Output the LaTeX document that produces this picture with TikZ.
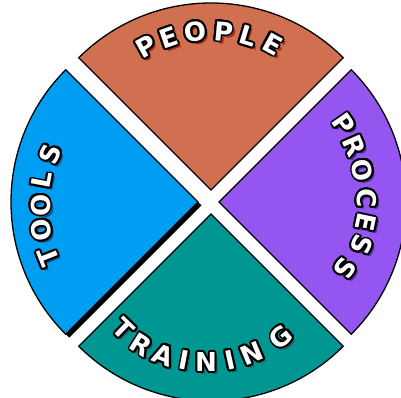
\documentclass[tikz,border=0pt]{standalone}
\usepackage{fontspec}
\setmainfont{DejaVu Sans}
\usetikzlibrary{calc}
\definecolor{peoplefill}{RGB}{209,112,80}
\definecolor{peopleshadow}{RGB}{160,45,20}
\definecolor{processfill}{RGB}{148,85,240}
\definecolor{processshadow}{RGB}{85,45,165}
\definecolor{toolsfill}{RGB}{0,158,242}
\definecolor{toolsshadow}{RGB}{20,85,135}
\definecolor{trainingfill}{RGB}{0,150,146}
\definecolor{trainingshadow}{RGB}{35,95,100}
\tikzset{
  sector/.style={draw=black, line width=1.3pt, line join=miter},
  lt/.style={font=\bfseries, scale=1.45, inner sep=0pt, anchor=center}
}
\newcommand\letterat[6]{%
  \node[lt, text=#6, rotate=#4] (#1s) at (#2+3,#3-3) {\fontsize{18}{18}\selectfont #5};
  \foreach \ang in {0,22.5,...,337.5}{\node[lt, text=black, rotate=#4] at ([shift={(\ang:1.9)}]#2,#3) {\fontsize{18}{18}\selectfont #5};}
  \node[lt, text=white, rotate=#4] (#1) at (#2,#3) {\fontsize{18}{18}\selectfont #5};
}
\begin{document}
\begin{tikzpicture}[x=1pt,y=1pt]
\clip (0,0) rectangle (401,398);
\fill[white] (0,0) rectangle (401,398);
\coordinate (tipPeople) at (211,208);
\coordinate (tipProcess) at (219,196);
\coordinate (tipTools) at (198,196);
\coordinate (tipTraining) at (211,184);
% sectors
\draw[sector, fill=peoplefill] (tipPeople) -- ++(45:187) arc[start angle=45, end angle=135, radius=187pt] -- cycle;
\draw[sector, fill=processfill] (tipProcess) -- ++(-45:187) arc[start angle=-45, end angle=45, radius=187pt] -- cycle;
\fill[black] ([shift={(3.5,-3.5)}]tipTools) -- ++(135:187) arc[start angle=135, end angle=225, radius=187pt] -- cycle;
\draw[sector, fill=toolsfill] (tipTools) -- ++(135:187) arc[start angle=135, end angle=225, radius=187pt] -- cycle;
\draw[sector, fill=trainingfill] (tipTraining) -- ++(225:187) arc[start angle=225, end angle=315, radius=187pt] -- cycle;
% PEOPLE
\letterat{pe1}{146.5}{351.5}{29}{P}{peopleshadow}
\letterat{pe2}{168.5}{360.5}{19}{E}{peopleshadow}
\letterat{pe3}{195.5}{366.5}{7}{O}{peopleshadow}
\letterat{pe4}{223.5}{366.5}{-5.5}{P}{peopleshadow}
\letterat{pe5}{248}{362.3}{-17}{L}{peopleshadow}
\letterat{pe6}{272.5}{354}{-28.7}{E}{peopleshadow}
% PROCESS
\letterat{pr1}{344.2}{273.8}{-55}{P}{processshadow}
\letterat{pr2}{354.2}{252.2}{-66}{R}{processshadow}
\letterat{pr3}{362.5}{227.8}{-78}{O}{processshadow}
\letterat{pr4}{366.8}{199.5}{-91}{C}{processshadow}
\letterat{pr5}{365.8}{175.5}{-102}{E}{processshadow}
\letterat{pr6}{361.8}{152.8}{-112}{S}{processshadow}
\letterat{pr7}{345.2}{129.5}{-124}{S}{processshadow}
% TOOLS
\letterat{to1}{48.5}{141}{111.7}{T}{toolsshadow}
\letterat{to2}{41.5}{168}{100}{O}{toolsshadow}
\letterat{to3}{40.5}{193}{90}{O}{toolsshadow}
\letterat{to4}{41.5}{218}{79.4}{L}{toolsshadow}
\letterat{to5}{50.5}{244}{68}{S}{toolsshadow}
% TRAINING
\letterat{tr1}{123.5}{69}{-44}{T}{trainingshadow}
\letterat{tr2}{141.5}{53}{-32.4}{R}{trainingshadow}
\letterat{tr3}{163.5}{43}{-20.7}{A}{trainingshadow}
\letterat{tr4}{184.5}{38}{-10.6}{I}{trainingshadow}
\letterat{tr5}{206}{36}{0}{N}{trainingshadow}
\letterat{tr6}{230}{38}{12.5}{I}{trainingshadow}
\letterat{tr7}{252}{44.5}{23}{N}{trainingshadow}
\letterat{tr8}{281}{61}{40}{G}{trainingshadow}
\end{tikzpicture}
\end{document}
